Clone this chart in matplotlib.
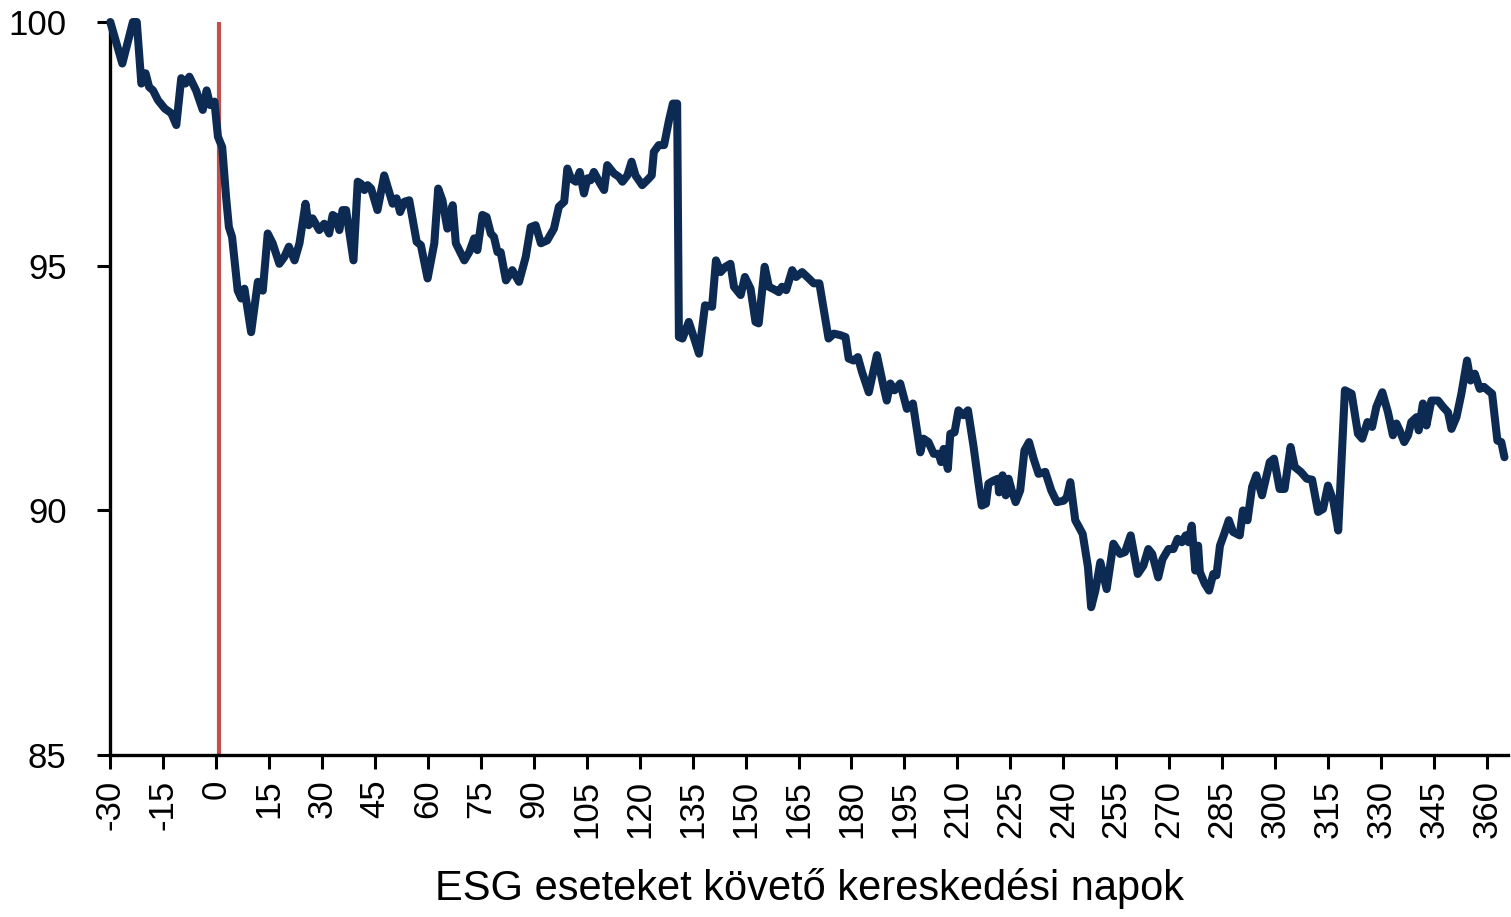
import matplotlib
matplotlib.use("Agg")
import matplotlib.pyplot as plt

# trading days relative to the ESG event, and the cumulative index (start = 100)
days = [-30, -26.6, -23.6, -22.5, -21.2, -20, -19, -17.9, -16.5, -14.6, -12.7, -11.3,
        -9.9, -8.7, -7.6, -5.7, -3.8, -2.7, -1.7, -0.5, 0.5, 1.7, 2.8, 3.6, 4.5,
        6.1, 7.1, 8, 9.9, 11.8, 13.2, 14.6, 16, 17.9, 19.3, 20.6, 22.2, 23.6,
        25.3, 26.2, 27.3, 29.2, 30.6, 32, 33, 33.9, 34.9, 35.8, 36.8, 38.9, 40.1,
        41, 42, 42.9, 43.9, 45.7, 47.6, 50, 51.1, 52.1, 53.3, 54.7, 56.8, 58,
        59.9, 61.8, 62.9, 64.1, 65.5, 67, 67.9, 70.3, 71.7, 73.1, 74, 75.4, 76.6,
        77.8, 78.7, 79.7, 80.6, 82.1, 83.9, 85.8, 87.7, 89.1, 90.5, 92, 93.8,
        95.7, 97.1, 98.6, 99.5, 100.5, 101.9, 103, 104.2, 105.2, 106.1, 107,
        108.5, 109.9, 110.8, 112.7, 114.1, 115.1, 116.5, 117.7, 118.8, 120.7,
        122.1, 123.4, 124, 125.4, 126.9, 128.3, 129.4, 130.6, 131.1, 132.1,
        133.9, 135.3, 136.8, 138.5, 140.5, 141.6, 142.9, 144.3, 145.7, 146.7,
        148.6, 149.8, 151.4, 152.8, 153.7, 155.4, 156.6, 158.5, 159.4, 160.3,
        161.5, 163.2, 164.3, 166, 167.9, 169.3, 170.9, 173.5, 175, 176.8, 178.3,
        179.2, 180.6, 181.8, 183, 184.9, 187.2, 189.1, 190, 191, 192.2, 193.8,
        195.7, 197.4, 199.5, 200.4, 201.8, 203.3, 204.7, 205.4, 206.1, 207.3,
        208, 209.2, 210.3, 211.7, 213, 214.6, 216, 216.9, 218.1, 218.8, 220.2,
        221.5, 221.8, 222.8, 223.7, 224.5, 225.4, 226.5, 227.8, 229, 230.3,
        231.6, 233, 234.9, 236.6, 238.2, 240.1, 241, 242, 243.4, 245.5, 247,
        247.9, 249.1, 250.5, 252.3, 254.2, 256.1, 257.5, 259.1, 261.1, 262.7,
        264.1, 265.2, 266.9, 268.1, 269.8, 271.2, 272.4, 273.6, 274.7, 275.5,
        276.4, 277.4, 278.2, 278.7, 280.1, 281.3, 282.5, 283.4, 284.4, 285.6,
        286.9, 288.1, 290, 290.9, 292.2, 293.5, 294.7, 296.3, 297.5, 298.5,
        299.7, 301.3, 302.7, 304.4, 305.6, 307.3, 309, 310.5, 312.2, 313.6, 315,
        316.5, 317.9, 319.8, 321.7, 323.5, 324.7, 326.2, 327.5, 328.7, 330.4,
        332, 333.4, 334.4, 335.3, 336.6, 337.7, 338.6, 340.1, 340.7, 341.9,
        342.9, 344.3, 346.2, 347.6, 349, 350, 351.4, 352.8, 354.4, 355.4, 356.6,
        358, 359.2, 360.3, 361.5, 363, 364.1, 365]
index = [100, 99.15, 100, 100, 98.74, 98.95, 98.67, 98.6, 98.4, 98.23, 98.13, 97.89,
         98.85, 98.74, 98.88, 98.6, 98.2, 98.6, 98.3, 98.37, 97.65, 97.44, 96.42,
         95.8, 95.6, 94.5, 94.34, 94.54, 93.65, 94.68, 94.5, 95.67, 95.47, 95.05,
         95.19, 95.4, 95.12, 95.47, 96.28, 95.84, 95.98, 95.74, 95.87, 95.67,
         96.05, 96.01, 95.74, 96.15, 96.15, 95.12, 96.73, 96.69, 96.56, 96.66,
         96.59, 96.15, 96.86, 96.28, 96.39, 96.11, 96.32, 96.35, 95.5, 95.43,
         94.75, 95.47, 96.59, 96.35, 95.77, 96.25, 95.47, 95.12, 95.29, 95.57,
         95.33, 96.05, 96.01, 95.67, 95.6, 95.29, 95.29, 94.71, 94.92, 94.68,
         95.19, 95.8, 95.84, 95.47, 95.53, 95.77, 96.22, 96.32, 97.0, 96.8,
         96.73, 96.93, 96.49, 96.8, 96.76, 96.93, 96.73, 96.56, 97.07, 96.9,
         96.83, 96.73, 96.86, 97.14, 96.86, 96.66, 96.76, 96.86, 97.34, 97.48,
         97.48, 97.99, 98.33, 98.33, 93.55, 93.52, 93.86, 93.55, 93.21, 94.2,
         94.17, 95.12, 94.88, 94.99, 95.05, 94.58, 94.41, 94.78, 94.54, 93.86,
         93.83, 94.99, 94.58, 94.51, 94.47, 94.58, 94.51, 94.92, 94.78, 94.88,
         94.75, 94.65, 94.65, 93.52, 93.62, 93.59, 93.55, 93.11, 93.07, 93.14,
         92.83, 92.42, 93.18, 92.53, 92.25, 92.6, 92.46, 92.6, 92.08, 92.19,
         91.19, 91.47, 91.4, 91.16, 91.16, 90.99, 91.26, 90.85, 91.57, 91.6,
         92.05, 91.95, 92.05, 91.3, 90.55, 90.1, 90.14, 90.55, 90.61, 90.65,
         90.37, 90.72, 90.31, 90.65, 90.41, 90.17, 90.41, 91.23, 91.4, 91.06,
         90.75, 90.79, 90.41, 90.17, 90.2, 90.27, 90.58, 89.8, 89.52, 88.84,
         88.02, 88.36, 88.94, 88.39, 89.32, 89.11, 89.15, 89.49, 88.7, 88.87,
         89.21, 89.11, 88.63, 89.0, 89.21, 89.21, 89.42, 89.35, 89.49, 89.35,
         89.69, 88.77, 89.28, 88.74, 88.5, 88.36, 88.7, 88.67, 89.28, 89.52,
         89.8, 89.56, 89.49, 90.0, 89.8, 90.48, 90.72, 90.31, 90.68, 90.99,
         91.06, 90.44, 90.44, 91.3, 90.89, 90.79, 90.65, 90.63, 89.97, 90.03,
         90.51, 90.2, 89.59, 92.46, 92.39, 91.57, 91.47, 91.81, 91.71, 92.12,
         92.42, 92.01, 91.54, 91.78, 91.64, 91.4, 91.54, 91.81, 91.91, 91.64,
         92.19, 91.74, 92.25, 92.25, 92.12, 92.01, 91.67, 91.91, 92.39, 93.07,
         92.66, 92.8, 92.49, 92.53, 92.46, 92.39, 91.43, 91.4, 91.09]

x_ticks = list(range(-30, 361, 15))
y_ticks = [85, 90, 95, 100]
event_day = 0.7
x_title = "ESG eseteket követő kereskedési napok"

navy = "#0d2b52"
red = "#c0504d"
fonts = ["Liberation Sans", "DejaVu Sans"]

fig = plt.figure(figsize=(15.11, 9.17), dpi=100)
ax = fig.add_axes([0.073, 0.177, 0.925, 0.799])

ax.axvline(event_day, color=red, lw=3, zorder=2)
ax.plot(days, index, color=navy, lw=5.8, solid_joinstyle="round",
        solid_capstyle="round", zorder=3, clip_on=False)

ax.set_xlim(-30, 366)
ax.set_ylim(85, 100)

ax.set_xticks(x_ticks)
ax.set_xticklabels([str(t) for t in x_ticks], rotation=90, fontsize=25, family=fonts)
ax.set_yticks(y_ticks)
ax.set_yticklabels([str(t) for t in y_ticks], fontsize=25, family=fonts)

ax.tick_params(axis="x", direction="out", length=10, width=2.2, pad=8)
ax.tick_params(axis="y", direction="out", length=9.5, width=2.2, pad=22)

for side in ["top", "right"]:
    ax.spines[side].set_visible(False)
for side in ["left", "bottom"]:
    ax.spines[side].set_linewidth(2.4)
    ax.spines[side].set_color("black")

ax.set_xlabel(x_title, fontsize=30, family=fonts, labelpad=22)

fig.savefig("out.png", dpi=100)
